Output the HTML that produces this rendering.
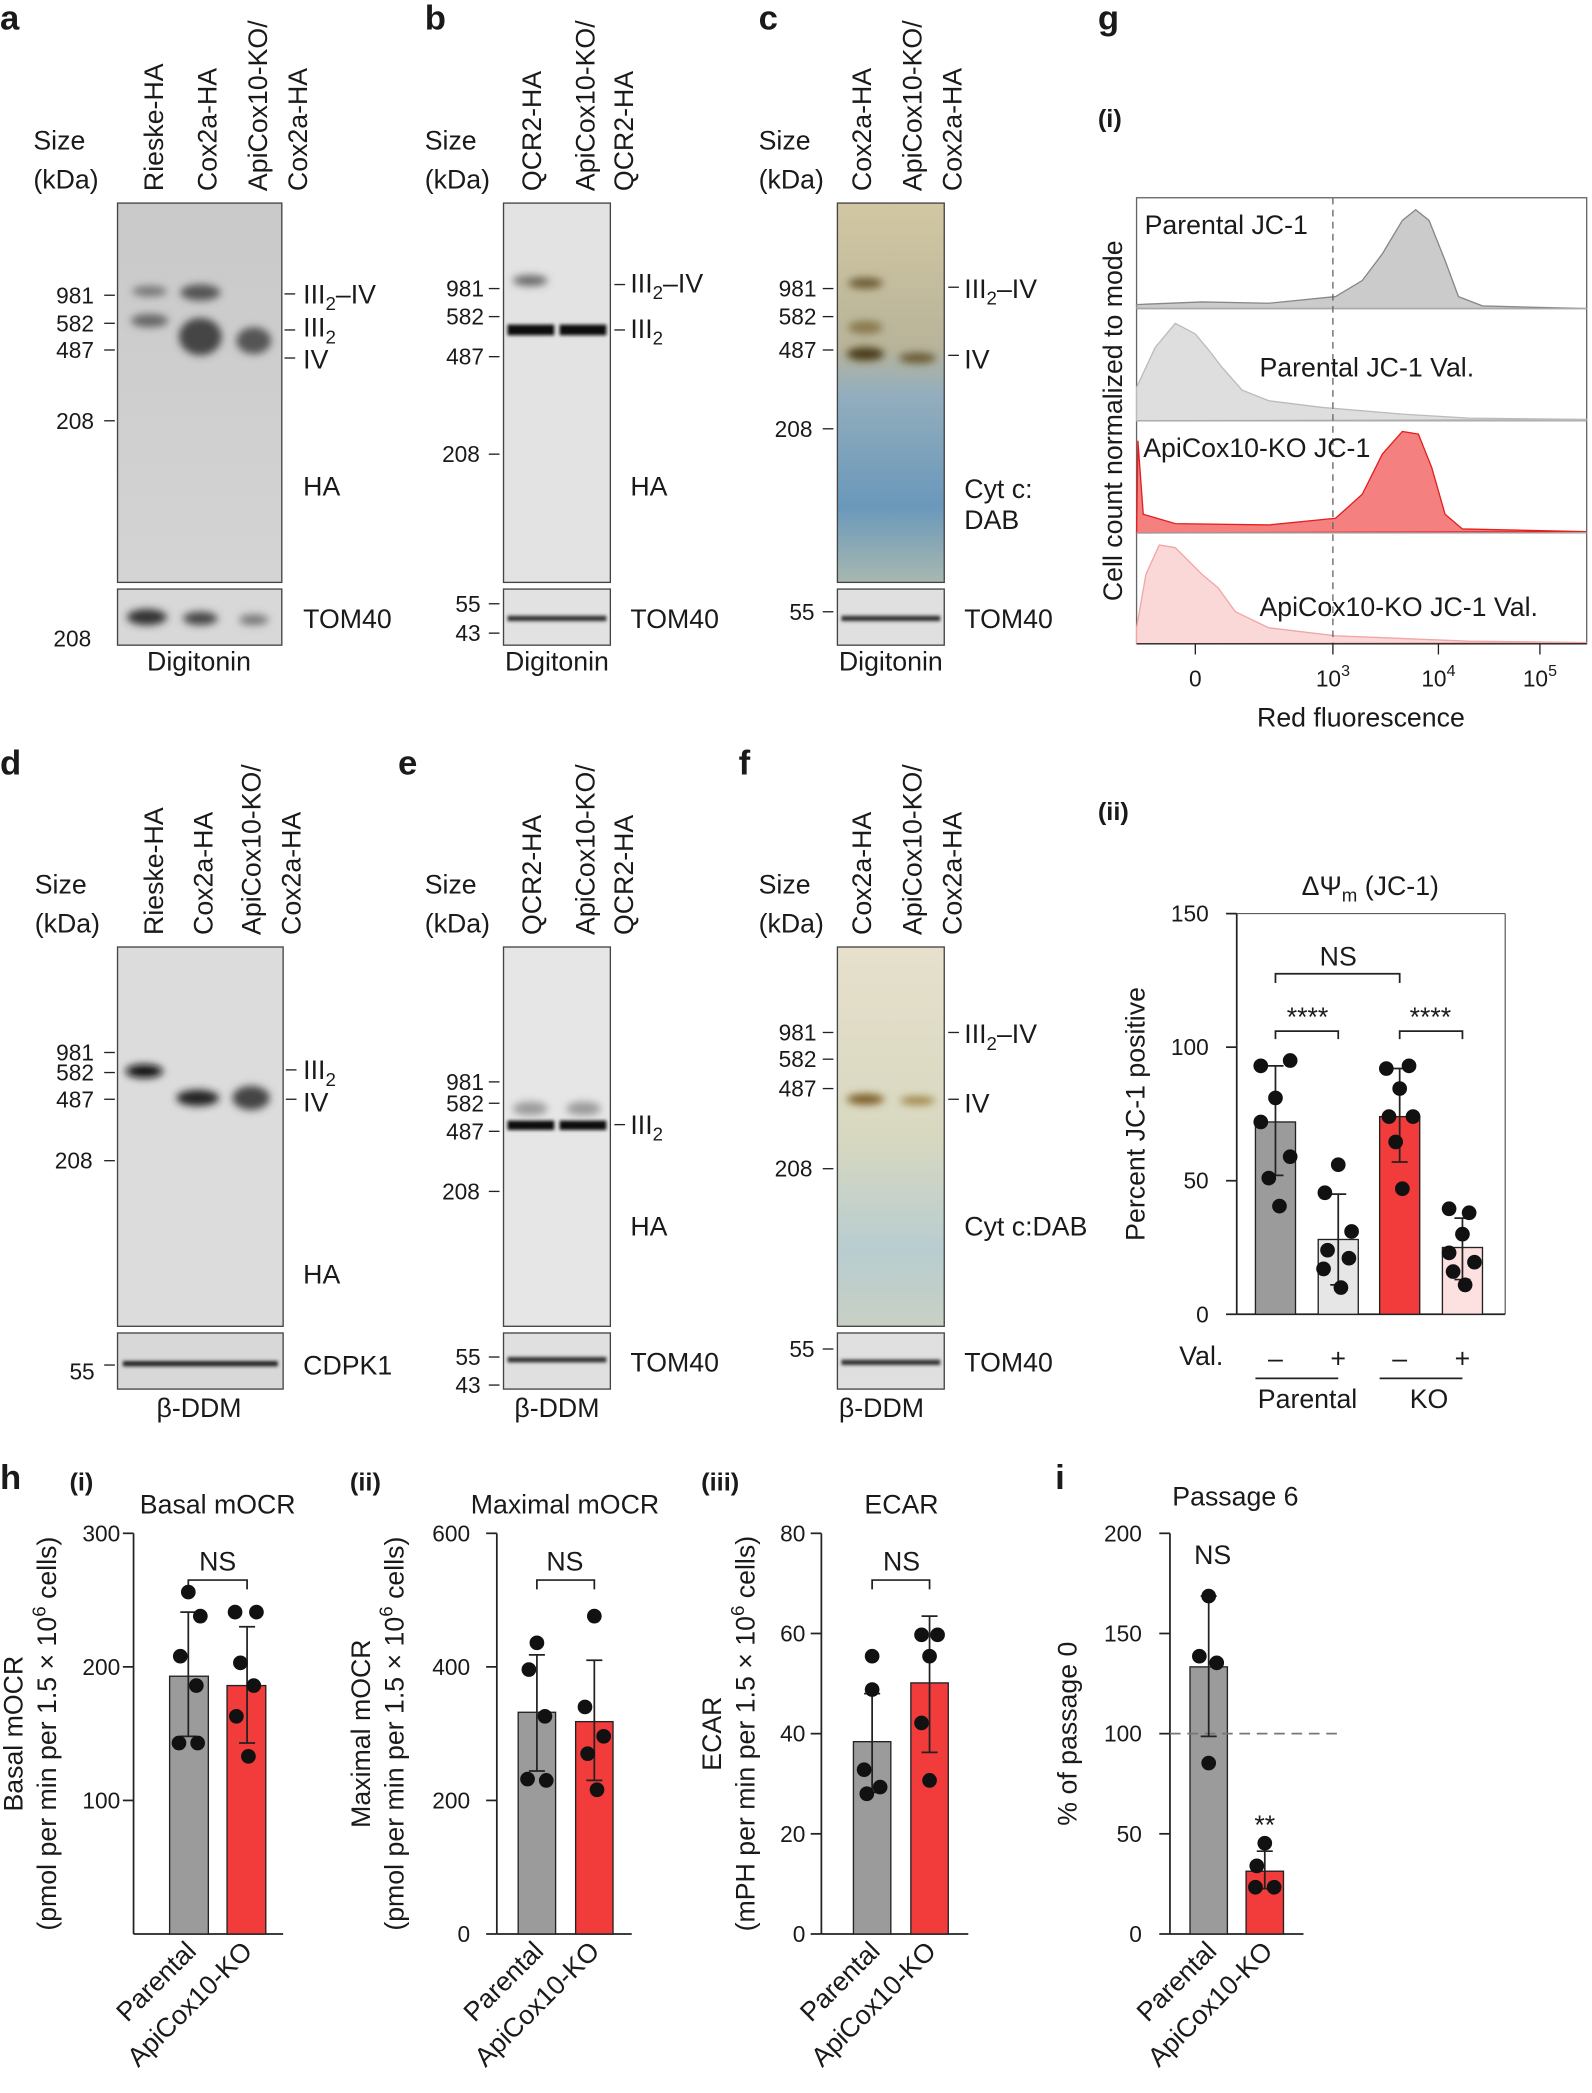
<!DOCTYPE html>
<html><head><meta charset="utf-8"><style>
html,body{margin:0;padding:0;background:#fff}
svg{display:block}
text{font-family:"Liberation Sans",sans-serif;fill:#1a1a1a}
</style></head><body>
<svg width="1592" height="2093" viewBox="0 0 1192 1567" xmlns="http://www.w3.org/2000/svg">
<defs>
<filter id="bl" x="-50%" y="-200%" width="200%" height="500%"><feGaussianBlur stdDeviation="3"/></filter>
<filter id="bl2" x="-50%" y="-200%" width="200%" height="500%"><feGaussianBlur stdDeviation="1.2"/></filter>
<linearGradient id="gA" x1="0" y1="0" x2="0" y2="1"><stop offset="0" stop-color="#c9c9c9"/><stop offset="1" stop-color="#d4d4d4"/></linearGradient>
<linearGradient id="gC" x1="0" y1="0" x2="0" y2="1"><stop offset="0" stop-color="#d2c7a2"/><stop offset="0.38" stop-color="#b8b49a"/><stop offset="0.5" stop-color="#94aebd"/><stop offset="0.8" stop-color="#6a98bb"/><stop offset="1" stop-color="#a8b8b0"/></linearGradient>
<linearGradient id="gF" x1="0" y1="0" x2="0" y2="1"><stop offset="0" stop-color="#e6e0cc"/><stop offset="0.5" stop-color="#d8d8c0"/><stop offset="0.8" stop-color="#b8cdd0"/><stop offset="1" stop-color="#c8d0c4"/></linearGradient>
</defs>
<g font-size="20">
<text x="0" y="22" font-size="26" font-weight="bold">a</text>
<text x="318" y="22" font-size="26" font-weight="bold">b</text>
<text x="568" y="22" font-size="26" font-weight="bold">c</text>
<text x="822" y="22" font-size="26" font-weight="bold">g</text>
<text x="0" y="580" font-size="26" font-weight="bold">d</text>
<text x="298" y="580" font-size="26" font-weight="bold">e</text>
<text x="553" y="580" font-size="26" font-weight="bold">f</text>
<text x="0" y="1115" font-size="26" font-weight="bold">h</text>
<text x="790" y="1115" font-size="26" font-weight="bold">i</text>

<!-- a -->
<text x="25" y="112">Size</text><text x="25" y="141">(kDa)</text>
<g transform="rotate(-90)"><text x="-143" y="122">Rieske-HA</text><text x="-143" y="162">Cox2a-HA</text><text x="-143" y="200">ApiCox10-KO/</text><text x="-143" y="230">Cox2a-HA</text></g>
<rect x="88" y="152" width="123" height="284" fill="url(#gA)" stroke="#444"/>
<ellipse cx="112" cy="218" rx="13" ry="4" fill="#777" filter="url(#bl)"/>
<ellipse cx="112" cy="240" rx="14" ry="5" fill="#666" filter="url(#bl)"/>
<ellipse cx="150" cy="219" rx="15" ry="6" fill="#555" filter="url(#bl)"/>
<ellipse cx="150" cy="252" rx="16" ry="14" fill="#444" filter="url(#bl)"/>
<ellipse cx="190" cy="255" rx="13" ry="10" fill="#555" filter="url(#bl)"/>
<rect x="88" y="441" width="123" height="42" fill="#d8d8d8" stroke="#444"/>
<ellipse cx="110" cy="462" rx="15" ry="6" fill="#333" filter="url(#bl)"/>
<ellipse cx="150" cy="463" rx="13" ry="5" fill="#444" filter="url(#bl)"/>
<ellipse cx="190" cy="464" rx="11" ry="4" fill="#777" filter="url(#bl)"/>
<g stroke="#222"><line x1="78" y1="221" x2="86" y2="221"/><line x1="78" y1="242" x2="86" y2="242"/><line x1="78" y1="262" x2="86" y2="262"/><line x1="78" y1="315" x2="86" y2="315"/><line x1="213" y1="220" x2="221" y2="220"/><line x1="213" y1="247" x2="221" y2="247"/><line x1="213" y1="268" x2="221" y2="268"/></g>
<g font-size="17"><text x="42" y="227">981</text><text x="42" y="248">582</text><text x="42" y="268">487</text><text x="42" y="321">208</text><text x="40" y="484">208</text></g>
<text x="227" y="227">III<tspan font-size="14" dy="5">2</tspan><tspan dy="-5">–IV</tspan></text>
<text x="227" y="252">III<tspan font-size="14" dy="5">2</tspan></text>
<text x="227" y="276">IV</text><text x="227" y="371">HA</text><text x="227" y="470">TOM40</text>
<text x="149" y="502" text-anchor="middle">Digitonin</text>

<!-- b -->
<text x="318" y="112">Size</text><text x="318" y="141">(kDa)</text>
<g transform="rotate(-90)"><text x="-143" y="405">QCR2-HA</text><text x="-143" y="445">ApiCox10-KO/</text><text x="-143" y="474">QCR2-HA</text></g>
<rect x="377" y="152" width="80" height="284" fill="#e3e3e3" stroke="#444"/>
<ellipse cx="397" cy="210" rx="13" ry="4" fill="#666" filter="url(#bl)"/>
<rect x="380" y="243" width="35" height="8" fill="#111" filter="url(#bl2)"/>
<rect x="419" y="243" width="35" height="8" fill="#111" filter="url(#bl2)"/>
<rect x="377" y="441" width="80" height="42" fill="#e2e2e2" stroke="#444"/>
<rect x="380" y="461" width="74" height="4" fill="#333" filter="url(#bl2)"/>
<g stroke="#222"><line x1="366" y1="216" x2="374" y2="216"/><line x1="366" y1="237" x2="374" y2="237"/><line x1="366" y1="267" x2="374" y2="267"/><line x1="366" y1="340" x2="374" y2="340"/><line x1="366" y1="452" x2="374" y2="452"/><line x1="366" y1="474" x2="374" y2="474"/><line x1="460" y1="213" x2="468" y2="213"/><line x1="460" y1="247" x2="468" y2="247"/></g>
<g font-size="17"><text x="334" y="222">981</text><text x="334" y="243">582</text><text x="334" y="273">487</text><text x="331" y="346">208</text><text x="341" y="458">55</text><text x="341" y="480">43</text></g>
<text x="472" y="219">III<tspan font-size="14" dy="5">2</tspan><tspan dy="-5">–IV</tspan></text>
<text x="472" y="253">III<tspan font-size="14" dy="5">2</tspan></text>
<text x="472" y="371">HA</text><text x="472" y="470">TOM40</text>
<text x="417" y="502" text-anchor="middle">Digitonin</text>

<!-- c -->
<text x="568" y="112">Size</text><text x="568" y="141">(kDa)</text>
<g transform="rotate(-90)"><text x="-143" y="652">Cox2a-HA</text><text x="-143" y="690">ApiCox10-KO/</text><text x="-143" y="720">Cox2a-HA</text></g>
<rect x="627" y="152" width="80" height="284" fill="url(#gC)" stroke="#444"/>
<ellipse cx="648" cy="212" rx="13" ry="4" fill="#6b5a30" filter="url(#bl)"/>
<ellipse cx="648" cy="245" rx="13" ry="5" fill="#8a7a50" filter="url(#bl)"/>
<ellipse cx="648" cy="265" rx="14" ry="5" fill="#4a3a15" filter="url(#bl)"/>
<ellipse cx="687" cy="268" rx="14" ry="4" fill="#6a5a30" filter="url(#bl)"/>
<rect x="627" y="441" width="80" height="42" fill="#e0e0e0" stroke="#444"/>
<rect x="630" y="461" width="74" height="4" fill="#333" filter="url(#bl2)"/>
<g stroke="#222"><line x1="616" y1="216" x2="624" y2="216"/><line x1="616" y1="237" x2="624" y2="237"/><line x1="616" y1="262" x2="624" y2="262"/><line x1="616" y1="321" x2="624" y2="321"/><line x1="616" y1="458" x2="624" y2="458"/><line x1="710" y1="215" x2="718" y2="215"/><line x1="710" y1="266" x2="718" y2="266"/></g>
<g font-size="17"><text x="583" y="222">981</text><text x="583" y="243">582</text><text x="583" y="268">487</text><text x="580" y="327">208</text><text x="591" y="464">55</text></g>
<text x="722" y="223">III<tspan font-size="14" dy="5">2</tspan><tspan dy="-5">–IV</tspan></text>
<text x="722" y="276">IV</text><text x="722" y="373">Cyt c:</text><text x="722" y="396">DAB</text><text x="722" y="470">TOM40</text>
<text x="667" y="502" text-anchor="middle">Digitonin</text>

<!-- g(i) -->
<text x="822" y="95" font-weight="bold" font-size="19">(i)</text>
<text transform="translate(840,315) rotate(-90)" text-anchor="middle">Cell count normalized to mode</text>
<rect x="851" y="148" width="337" height="334" fill="#fff" stroke="#666"/>
<path d="M851,231 L851,228 L900,226 L950,227 L1000,222 L1020,210 L1035,190 L1050,165 L1060,157 L1070,165 L1082,195 L1092,222 L1110,229 L1188,231 Z" fill="#cbcbcb" stroke="#888"/>
<path d="M851,315 L851,290 L865,260 L880,242 L895,250 L905,262 L915,275 L930,292 L950,300 L990,305 L1050,310 L1100,313 L1188,314 Z" fill="#dedede" stroke="#bbb"/>
<path d="M851,399 L852,330 L856,385 L880,392 L950,393 L1000,388 L1020,370 L1035,340 L1050,323 L1062,325 L1072,350 L1082,385 L1095,396 L1188,398 Z" fill="#f58080" stroke="#e32020"/>
<path d="M851,482 L851,470 L858,430 L868,408 L880,410 L900,430 L912,440 L925,458 L950,470 L1000,476 L1100,480 L1188,481 Z" fill="#fbd8d8" stroke="#f2a6a6"/>
<g stroke="#aaa"><line x1="851" y1="231" x2="1188" y2="231"/><line x1="851" y1="315" x2="1188" y2="315"/><line x1="851" y1="399" x2="1188" y2="399"/></g>
<line x1="998" y1="148" x2="998" y2="482" stroke="#666" stroke-dasharray="5,4"/>
<text x="857" y="175">Parental JC-1</text>
<text x="943" y="282">Parental JC-1 Val.</text>
<text x="856" y="342">ApiCox10-KO JC-1</text>
<text x="943" y="461">ApiCox10-KO JC-1 Val.</text>
<g stroke="#222"><line x1="851" y1="482" x2="1188" y2="482"/><line x1="895" y1="482" x2="895" y2="490"/><line x1="998" y1="482" x2="998" y2="490"/><line x1="1077" y1="482" x2="1077" y2="490"/><line x1="1153" y1="482" x2="1153" y2="490"/></g>
<text x="895" y="514" text-anchor="middle" font-size="17">0</text>
<text x="998" y="514" text-anchor="middle" font-size="17">10<tspan font-size="12" dy="-8">3</tspan></text>
<text x="1077" y="514" text-anchor="middle" font-size="17">10<tspan font-size="12" dy="-8">4</tspan></text>
<text x="1153" y="514" text-anchor="middle" font-size="17">10<tspan font-size="12" dy="-8">5</tspan></text>
<text x="1019" y="544" text-anchor="middle">Red fluorescence</text>

<!-- d -->
<text x="26" y="669">Size</text><text x="26" y="698">(kDa)</text>
<g transform="rotate(-90)"><text x="-700" y="122">Rieske-HA</text><text x="-700" y="159">Cox2a-HA</text><text x="-700" y="195">ApiCox10-KO/</text><text x="-700" y="225">Cox2a-HA</text></g>
<rect x="88" y="709" width="124" height="284" fill="#dcdcdc" stroke="#444"/>
<ellipse cx="108" cy="802" rx="14" ry="5" fill="#111" filter="url(#bl)"/>
<ellipse cx="148" cy="822" rx="16" ry="6" fill="#222" filter="url(#bl)"/>
<ellipse cx="188" cy="822" rx="14" ry="9" fill="#444" filter="url(#bl)"/>
<rect x="88" y="998" width="124" height="42" fill="#d8d8d8" stroke="#444"/>
<rect x="92" y="1019" width="116" height="4" fill="#222" filter="url(#bl2)"/>
<g stroke="#222"><line x1="78" y1="788" x2="86" y2="788"/><line x1="78" y1="803" x2="86" y2="803"/><line x1="78" y1="823" x2="86" y2="823"/><line x1="78" y1="869" x2="86" y2="869"/><line x1="78" y1="1022" x2="86" y2="1022"/><line x1="214" y1="801" x2="222" y2="801"/><line x1="214" y1="823" x2="222" y2="823"/></g>
<g font-size="17"><text x="42" y="794">981</text><text x="42" y="809">582</text><text x="42" y="829">487</text><text x="41" y="875">208</text><text x="52" y="1033">55</text></g>
<text x="227" y="808">III<tspan font-size="14" dy="5">2</tspan></text>
<text x="227" y="832">IV</text><text x="227" y="961">HA</text><text x="227" y="1029">CDPK1</text>
<text x="149" y="1061" text-anchor="middle">β-DDM</text>

<!-- e -->
<text x="318" y="669">Size</text><text x="318" y="698">(kDa)</text>
<g transform="rotate(-90)"><text x="-700" y="405">QCR2-HA</text><text x="-700" y="445">ApiCox10-KO/</text><text x="-700" y="474">QCR2-HA</text></g>
<rect x="377" y="709" width="80" height="284" fill="#e6e6e6" stroke="#444"/>
<rect x="380" y="839" width="35" height="7" fill="#111" filter="url(#bl2)"/>
<rect x="419" y="839" width="35" height="7" fill="#111" filter="url(#bl2)"/>
<ellipse cx="397" cy="830" rx="13" ry="5" fill="#999" filter="url(#bl)"/>
<ellipse cx="437" cy="830" rx="13" ry="5" fill="#999" filter="url(#bl)"/>
<rect x="377" y="998" width="80" height="42" fill="#e0e0e0" stroke="#444"/>
<rect x="380" y="1016" width="74" height="4" fill="#333" filter="url(#bl2)"/>
<g stroke="#222"><line x1="366" y1="810" x2="374" y2="810"/><line x1="366" y1="826" x2="374" y2="826"/><line x1="366" y1="847" x2="374" y2="847"/><line x1="366" y1="892" x2="374" y2="892"/><line x1="366" y1="1016" x2="374" y2="1016"/><line x1="366" y1="1037" x2="374" y2="1037"/><line x1="460" y1="842" x2="468" y2="842"/></g>
<g font-size="17"><text x="334" y="816">981</text><text x="334" y="832">582</text><text x="334" y="853">487</text><text x="331" y="898">208</text><text x="341" y="1022">55</text><text x="341" y="1043">43</text></g>
<text x="472" y="849">III<tspan font-size="14" dy="5">2</tspan></text>
<text x="472" y="925">HA</text><text x="472" y="1027">TOM40</text>
<text x="417" y="1061" text-anchor="middle">β-DDM</text>

<!-- f -->
<text x="568" y="669">Size</text><text x="568" y="698">(kDa)</text>
<g transform="rotate(-90)"><text x="-700" y="652">Cox2a-HA</text><text x="-700" y="690">ApiCox10-KO/</text><text x="-700" y="720">Cox2a-HA</text></g>
<rect x="627" y="709" width="80" height="284" fill="url(#gF)" stroke="#444"/>
<ellipse cx="648" cy="823" rx="14" ry="4" fill="#7a5a20" filter="url(#bl)"/>
<ellipse cx="687" cy="824" rx="13" ry="3" fill="#9a8040" filter="url(#bl)"/>
<rect x="627" y="998" width="80" height="42" fill="#e0e0e0" stroke="#444"/>
<rect x="630" y="1018" width="74" height="4" fill="#333" filter="url(#bl2)"/>
<g stroke="#222"><line x1="616" y1="773" x2="624" y2="773"/><line x1="616" y1="793" x2="624" y2="793"/><line x1="616" y1="815" x2="624" y2="815"/><line x1="616" y1="875" x2="624" y2="875"/><line x1="616" y1="1010" x2="624" y2="1010"/><line x1="710" y1="773" x2="718" y2="773"/><line x1="710" y1="823" x2="718" y2="823"/></g>
<g font-size="17"><text x="583" y="779">981</text><text x="583" y="799">582</text><text x="583" y="821">487</text><text x="580" y="881">208</text><text x="591" y="1016">55</text></g>
<text x="722" y="781">III<tspan font-size="14" dy="5">2</tspan><tspan dy="-5">–IV</tspan></text>
<text x="722" y="833">IV</text><text x="722" y="925">Cyt c:DAB</text><text x="722" y="1027">TOM40</text>
<text x="660" y="1061" text-anchor="middle">β-DDM</text>

<!-- g(ii) -->
<text x="822" y="614" font-weight="bold" font-size="19">(ii)</text>
<text x="1026" y="670" text-anchor="middle">ΔΨ<tspan font-size="14" dy="5">m</tspan><tspan dy="-5"> (JC-1)</tspan></text>
<text transform="translate(857,834) rotate(-90)" text-anchor="middle">Percent JC-1 positive</text>
<polyline points="1127,684 926,684" fill="none" stroke="#444" stroke-width="0.8"/>
<line x1="1127" y1="684" x2="1127" y2="984" stroke="#444" stroke-width="0.8"/>
<g stroke="#222" stroke-width="1.3"><line x1="926" y1="684" x2="926" y2="984"/><line x1="926" y1="984" x2="1127" y2="984"/>
<line x1="918" y1="684" x2="926" y2="684"/><line x1="918" y1="784" x2="926" y2="784"/><line x1="918" y1="884" x2="926" y2="884"/><line x1="918" y1="984" x2="926" y2="984"/></g>
<g font-size="17" text-anchor="end"><text x="905" y="690">150</text><text x="905" y="790">100</text><text x="905" y="890">50</text><text x="905" y="990">0</text></g>
<rect x="940" y="840" width="30" height="144" fill="#9b9b9b" stroke="#222"/>
<rect x="987" y="928" width="30" height="56" fill="#e6e6e6" stroke="#222"/>
<rect x="1033" y="836" width="30" height="148" fill="#f23b3b" stroke="#222"/>
<rect x="1080" y="934" width="30" height="50" fill="#fde0e0" stroke="#222"/>
<g stroke="#222" stroke-width="1.3" fill="none">
<path d="M955,798 V880 M949,798 H961 M949,880 H961"/>
<path d="M1002,894 V962 M996,894 H1008 M996,962 H1008"/>
<path d="M1048,800 V870 M1042,800 H1054 M1042,870 H1054"/>
<path d="M1095,912 V958 M1089,912 H1101 M1089,958 H1101"/>
<path d="M955,736 V729 H1048 V736"/><path d="M955,778 V772 H1002 V778"/><path d="M1048,778 V772 H1095 V778"/>
<line x1="940" y1="1032" x2="1002" y2="1032"/><line x1="1033" y1="1032" x2="1095" y2="1032"/>
</g>
<g fill="#111">
<circle cx="944" cy="798" r="5.5"/><circle cx="966" cy="794" r="5.5"/><circle cx="955" cy="822" r="5.5"/><circle cx="944" cy="840" r="5.5"/><circle cx="966" cy="866" r="5.5"/><circle cx="950" cy="882" r="5.5"/><circle cx="958" cy="903" r="5.5"/>
<circle cx="1002" cy="872" r="5.5"/><circle cx="992" cy="893" r="5.5"/><circle cx="1012" cy="922" r="5.5"/><circle cx="994" cy="936" r="5.5"/><circle cx="1010" cy="942" r="5.5"/><circle cx="991" cy="950" r="5.5"/><circle cx="1004" cy="964" r="5.5"/>
<circle cx="1038" cy="800" r="5.5"/><circle cx="1055" cy="798" r="5.5"/><circle cx="1048" cy="815" r="5.5"/><circle cx="1040" cy="836" r="5.5"/><circle cx="1058" cy="836" r="5.5"/><circle cx="1045" cy="855" r="5.5"/><circle cx="1050" cy="890" r="5.5"/>
<circle cx="1085" cy="905" r="5.5"/><circle cx="1100" cy="908" r="5.5"/><circle cx="1095" cy="924" r="5.5"/><circle cx="1085" cy="938" r="5.5"/><circle cx="1104" cy="945" r="5.5"/><circle cx="1088" cy="952" r="5.5"/><circle cx="1097" cy="962" r="5.5"/>
</g>
<text x="1002" y="723" text-anchor="middle">NS</text>
<text x="979" y="768" text-anchor="middle">****</text><text x="1071" y="768" text-anchor="middle">****</text>
<text x="883" y="1022">Val.</text>
<text x="955" y="1024" text-anchor="middle">–</text><text x="1002" y="1024" text-anchor="middle">+</text><text x="1048" y="1024" text-anchor="middle">–</text><text x="1095" y="1024" text-anchor="middle">+</text>
<text x="979" y="1054" text-anchor="middle">Parental</text><text x="1070" y="1054" text-anchor="middle">KO</text>

<!-- h(i) -->
<text x="52" y="1116" font-weight="bold" font-size="19">(i)</text>
<text x="163" y="1133" text-anchor="middle">Basal mOCR</text>
<text transform="translate(17,1298) rotate(-90)" text-anchor="middle">Basal mOCR</text>
<text transform="translate(42,1298) rotate(-90)" text-anchor="middle">(pmol per min per 1.5 × 10<tspan font-size="14" dy="-8">6</tspan><tspan dy="8"> cells)</tspan></text>
<g stroke="#222" stroke-width="1.3"><line x1="100" y1="1148" x2="100" y2="1448"/><line x1="100" y1="1448" x2="212" y2="1448"/>
<line x1="92" y1="1148" x2="100" y2="1148"/><line x1="92" y1="1248" x2="100" y2="1248"/><line x1="92" y1="1348" x2="100" y2="1348"/></g>
<g font-size="17" text-anchor="end"><text x="90" y="1154">300</text><text x="90" y="1254">200</text><text x="90" y="1354">100</text></g>
<rect x="127" y="1255" width="29" height="193" fill="#9b9b9b" stroke="#222"/>
<rect x="170" y="1262" width="29" height="186" fill="#f23b3b" stroke="#222"/>
<g stroke="#222" stroke-width="1.3" fill="none"><path d="M141,1207 V1300 M135,1207 H147 M135,1300 H147"/><path d="M185,1218 V1305 M179,1218 H191 M179,1305 H191"/><path d="M141,1190 V1183 H185 V1190"/></g>
<g fill="#111"><circle cx="141" cy="1192" r="5.5"/><circle cx="150" cy="1210" r="5.5"/><circle cx="135" cy="1240" r="5.5"/><circle cx="147" cy="1262" r="5.5"/><circle cx="134" cy="1305" r="5.5"/><circle cx="148" cy="1305" r="5.5"/>
<circle cx="176" cy="1207" r="5.5"/><circle cx="192" cy="1207" r="5.5"/><circle cx="180" cy="1245" r="5.5"/><circle cx="190" cy="1262" r="5.5"/><circle cx="177" cy="1285" r="5.5"/><circle cx="186" cy="1315" r="5.5"/></g>
<text x="163" y="1176" text-anchor="middle">NS</text>
<text transform="translate(148,1462) rotate(-45)" text-anchor="end">Parental</text>
<text transform="translate(190,1462) rotate(-45)" text-anchor="end">ApiCox10-KO</text>

<!-- h(ii) -->
<text x="262" y="1116" font-weight="bold" font-size="19">(ii)</text>
<text x="423" y="1133" text-anchor="middle">Maximal mOCR</text>
<text transform="translate(277,1298) rotate(-90)" text-anchor="middle">Maximal mOCR</text>
<text transform="translate(302,1298) rotate(-90)" text-anchor="middle">(pmol per min per 1.5 × 10<tspan font-size="14" dy="-8">6</tspan><tspan dy="8"> cells)</tspan></text>
<g stroke="#222" stroke-width="1.3"><line x1="372" y1="1148" x2="372" y2="1448"/><line x1="372" y1="1448" x2="473" y2="1448"/>
<line x1="364" y1="1148" x2="372" y2="1148"/><line x1="364" y1="1248" x2="372" y2="1248"/><line x1="364" y1="1348" x2="372" y2="1348"/><line x1="364" y1="1448" x2="372" y2="1448"/></g>
<g font-size="17" text-anchor="end"><text x="352" y="1154">600</text><text x="352" y="1254">400</text><text x="352" y="1354">200</text><text x="352" y="1454">0</text></g>
<rect x="388" y="1282" width="28" height="166" fill="#9b9b9b" stroke="#222"/>
<rect x="431" y="1289" width="28" height="159" fill="#f23b3b" stroke="#222"/>
<g stroke="#222" stroke-width="1.3" fill="none"><path d="M402,1239 V1326 M396,1239 H408 M396,1326 H408"/><path d="M445,1243 V1333 M439,1243 H451 M439,1333 H451"/><path d="M402,1190 V1183 H445 V1190"/></g>
<g fill="#111"><circle cx="402" cy="1230" r="5.5"/><circle cx="396" cy="1250" r="5.5"/><circle cx="408" cy="1285" r="5.5"/><circle cx="395" cy="1332" r="5.5"/><circle cx="409" cy="1333" r="5.5"/>
<circle cx="445" cy="1210" r="5.5"/><circle cx="438" cy="1278" r="5.5"/><circle cx="452" cy="1300" r="5.5"/><circle cx="440" cy="1313" r="5.5"/><circle cx="447" cy="1340" r="5.5"/></g>
<text x="423" y="1176" text-anchor="middle">NS</text>
<text transform="translate(408,1462) rotate(-45)" text-anchor="end">Parental</text>
<text transform="translate(450,1462) rotate(-45)" text-anchor="end">ApiCox10-KO</text>

<!-- h(iii) -->
<text x="525" y="1116" font-weight="bold" font-size="19">(iii)</text>
<text x="675" y="1133" text-anchor="middle">ECAR</text>
<text transform="translate(540,1298) rotate(-90)" text-anchor="middle">ECAR</text>
<text transform="translate(565,1298) rotate(-90)" text-anchor="middle">(mPH per min per 1.5 × 10<tspan font-size="14" dy="-8">6</tspan><tspan dy="8"> cells)</tspan></text>
<g stroke="#222" stroke-width="1.3"><line x1="615" y1="1148" x2="615" y2="1448"/><line x1="615" y1="1448" x2="725" y2="1448"/>
<line x1="607" y1="1148" x2="615" y2="1148"/><line x1="607" y1="1223" x2="615" y2="1223"/><line x1="607" y1="1298" x2="615" y2="1298"/><line x1="607" y1="1373" x2="615" y2="1373"/><line x1="607" y1="1448" x2="615" y2="1448"/></g>
<g font-size="17" text-anchor="end"><text x="603" y="1154">80</text><text x="603" y="1229">60</text><text x="603" y="1304">40</text><text x="603" y="1379">20</text><text x="603" y="1454">0</text></g>
<rect x="639" y="1304" width="28" height="144" fill="#9b9b9b" stroke="#222"/>
<rect x="682" y="1260" width="28" height="188" fill="#f23b3b" stroke="#222"/>
<g stroke="#222" stroke-width="1.3" fill="none"><path d="M653,1268 V1342 M647,1268 H659 M647,1342 H659"/><path d="M696,1210 V1312 M690,1210 H702 M690,1312 H702"/><path d="M653,1190 V1183 H696 V1190"/></g>
<g fill="#111"><circle cx="653" cy="1240" r="5.5"/><circle cx="653" cy="1265" r="5.5"/><circle cx="647" cy="1325" r="5.5"/><circle cx="659" cy="1338" r="5.5"/><circle cx="649" cy="1343" r="5.5"/>
<circle cx="690" cy="1224" r="5.5"/><circle cx="702" cy="1224" r="5.5"/><circle cx="696" cy="1240" r="5.5"/><circle cx="690" cy="1290" r="5.5"/><circle cx="696" cy="1333" r="5.5"/></g>
<text x="675" y="1176" text-anchor="middle">NS</text>
<text transform="translate(660,1462) rotate(-45)" text-anchor="end">Parental</text>
<text transform="translate(702,1462) rotate(-45)" text-anchor="end">ApiCox10-KO</text>

<!-- i -->
<text x="925" y="1127" text-anchor="middle">Passage 6</text>
<text transform="translate(806,1298) rotate(-90)" text-anchor="middle">% of passage 0</text>
<g stroke="#222" stroke-width="1.3"><line x1="876" y1="1148" x2="876" y2="1448"/><line x1="876" y1="1448" x2="976" y2="1448"/>
<line x1="868" y1="1148" x2="876" y2="1148"/><line x1="868" y1="1223" x2="876" y2="1223"/><line x1="868" y1="1298" x2="876" y2="1298"/><line x1="868" y1="1373" x2="876" y2="1373"/><line x1="868" y1="1448" x2="876" y2="1448"/></g>
<g font-size="17" text-anchor="end"><text x="855" y="1154">200</text><text x="855" y="1229">150</text><text x="855" y="1304">100</text><text x="855" y="1379">50</text><text x="855" y="1454">0</text></g>
<rect x="891" y="1248" width="28" height="200" fill="#9b9b9b" stroke="#222"/>
<rect x="933" y="1401" width="28" height="47" fill="#f23b3b" stroke="#222"/>
<line x1="876" y1="1298" x2="1005" y2="1298" stroke="#777" stroke-width="1.3" stroke-dasharray="8,5"/>
<g stroke="#222" stroke-width="1.3" fill="none"><path d="M905,1195 V1300 M899,1195 H911 M899,1300 H911"/><path d="M947,1386 V1414 M941,1386 H953 M941,1414 H953"/></g>
<g fill="#111"><circle cx="905" cy="1195" r="5.5"/><circle cx="898" cy="1240" r="5.5"/><circle cx="911" cy="1245" r="5.5"/><circle cx="905" cy="1320" r="5.5"/>
<circle cx="947" cy="1380" r="5.5"/><circle cx="941" cy="1397" r="5.5"/><circle cx="940" cy="1413" r="5.5"/><circle cx="954" cy="1413" r="5.5"/></g>
<text x="908" y="1171" text-anchor="middle">NS</text>
<text x="947" y="1373" text-anchor="middle">**</text>
<text transform="translate(912,1462) rotate(-45)" text-anchor="end">Parental</text>
<text transform="translate(954,1462) rotate(-45)" text-anchor="end">ApiCox10-KO</text>
</g>
</svg>
</body></html>
